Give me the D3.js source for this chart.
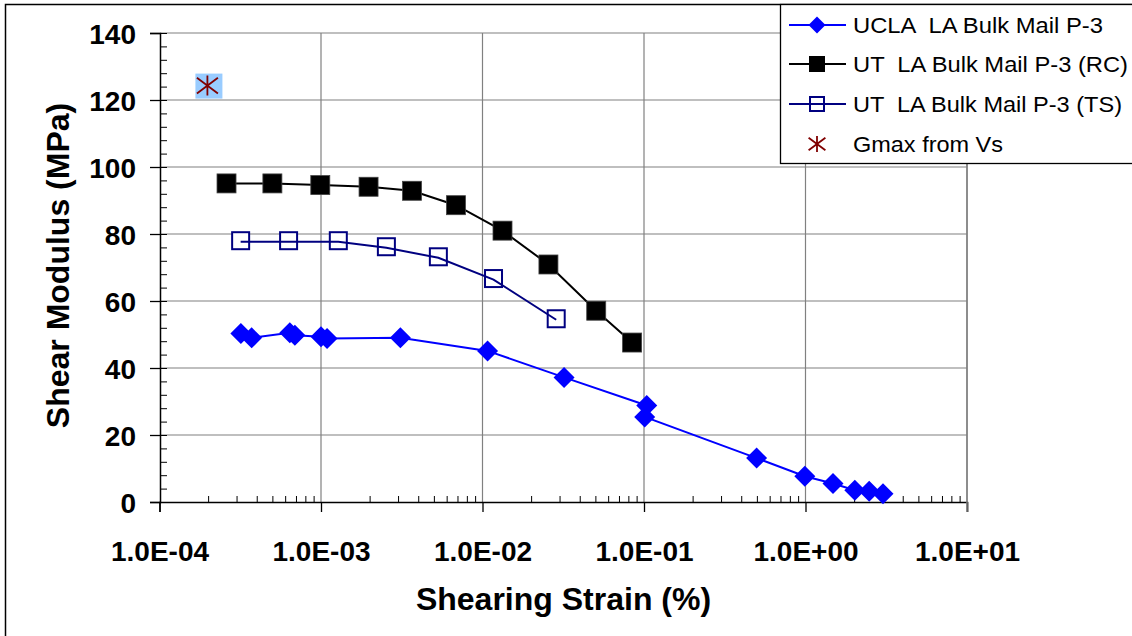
<!DOCTYPE html>
<html>
<head>
<meta charset="utf-8">
<script src="https://cdn.jsdelivr.net/npm/d3@7"></script>
<style>
    html, body { margin: 0; padding: 0; background: #fff; }
    svg { display: block; font-family: Arial, "Liberation Sans", sans-serif; }
    .legend-text { white-space: pre; }
</style>
</head>
<body>
<svg id="chart" width="1132" height="636"></svg>
<script>
(function () {
    'use strict';

    // UCLA resonant column / torsional shear data
    var uclaStrain = [3.19e-4, 3.72e-4, 6.41e-4, 6.89e-4, 1.0e-3, 1.09e-3, 3.1e-3, 1.075e-2, 3.2e-2,
            1.04e-1, 1.01e-1, 0.498, 0.99, 1.48, 2.02, 2.48, 3.02],
        uclaModulus = [50.3, 49.0, 50.5, 49.8, 49.3, 48.8, 49.0, 45.1, 37.2,
            28.8, 25.4, 13.1, 7.7, 5.5, 3.5, 3.2, 2.5];

    // UT resonant column
    var rcStrain = [2.6e-4, 5.0e-4, 9.9e-4, 1.97e-3, 3.66e-3, 6.85e-3, 1.33e-2, 2.56e-2, 5.06e-2, 8.44e-2],
        rcModulus = [95.1, 95.1, 94.6, 94.1, 92.9, 88.6, 81.0, 70.9, 57.1, 47.6];

    // UT torsional shear
    var tsStrain = [3.18e-4, 6.3e-4, 1.28e-3, 2.54e-3, 5.33e-3, 1.17e-2, 2.86e-2],
        tsModulus = [78.0, 78.0, 78.0, 76.2, 73.2, 66.7, 54.7];

    // Gmax from Vs
    var gmaxStrain = [1.98e-4],
        gmaxModulus = [124.3];

    var seriesNames = ['UCLA  LA Bulk Mail P-3', 'UT  LA Bulk Mail P-3 (RC)',
        'UT  LA Bulk Mail P-3 (TS)', 'Gmax from Vs'];

    var xTicks = [1e-4, 1e-3, 1e-2, 1e-1, 1e0, 1e1],
        xTickLabels = ['1.0E-04', '1.0E-03', '1.0E-02', '1.0E-01', '1.0E+00', '1.0E+01'],
        yTicks = [0, 20, 40, 60, 80, 100, 120, 140];

    var svg = d3.select('#chart'),
        left = 160, right = 967, top = 33, bottom = 502;

    var x = d3.scaleLog().domain([1e-4, 1e1]).range([159.5, right]),
        y = d3.scaleLinear().domain([0, 140]).range([bottom, top]);

    var zip = function (xs, ys) {
        return xs.map(function (v, i) { return [v, ys[i]]; });
    };

    //outer frame
    svg.append('rect')
        .attr('x', 5.5).attr('y', 4.5)
        .attr('width', 1200).attr('height', 700)
        .attr('fill', '#fff').attr('stroke', '#000').attr('stroke-width', 1.5);

    //grid
    var grid = svg.append('g').attr('stroke', '#808080').attr('stroke-width', 1.2);
    grid.selectAll('.hg')
        .data(yTicks.filter(function (d) { return d > 0; }))
        .enter().append('line')
        .attr('x1', left).attr('x2', right)
        .attr('y1', function (d) { return y(d); })
        .attr('y2', function (d) { return y(d); });
    grid.selectAll('.vg')
        .data(xTicks.slice(1))
        .enter().append('line')
        .attr('y1', top).attr('y2', bottom)
        .attr('x1', function (d) { return x(d); })
        .attr('x2', function (d) { return x(d); });

    //minor ticks
    var minorX = [];
    xTicks.slice(0, -1).forEach(function (d) {
        for (var k = 2; k < 10; k++) {
            minorX.push(d * k);
        }
    });
    svg.append('g')
        .attr('transform', 'translate(0,' + bottom + ')')
        .call(d3.axisTop(x).tickValues(minorX).tickSize(6).tickFormat(''))
        .call(function (g) { g.select('.domain').remove(); });
    svg.append('g')
        .attr('transform', 'translate(' + left + ',0)')
        .call(d3.axisRight(y).tickValues(d3.range(0, 141, 4)).tickSize(7).tickFormat(''))
        .call(function (g) { g.select('.domain').remove(); });

    //major axes
    var xAxis = svg.append('g')
        .attr('transform', 'translate(0,' + bottom + ')')
        .call(d3.axisBottom(x).tickValues(xTicks).tickSize(10).tickPadding(29)
            .tickFormat(function (d, i) { return xTickLabels[i]; }));
    var yAxis = svg.append('g')
        .attr('transform', 'translate(' + left + ',0)')
        .call(d3.axisLeft(y).tickValues(yTicks).tickSize(10).tickPadding(14));

    [xAxis, yAxis].forEach(function (g) {
        g.select('.domain').attr('stroke-width', 1.5);
        g.selectAll('.tick line').attr('stroke-width', 1.3);
        g.selectAll('.tick text')
            .attr('fill', '#000')
            .style('font-size', '28px')
            .style('font-weight', 'bold')
            .style('font-family', 'Arial, "Liberation Sans", sans-serif');
    });
    yAxis.selectAll('.tick text').attr('dy', '0.36em');

    //right border of plot area
    svg.append('line')
        .attr('x1', right).attr('x2', right).attr('y1', top).attr('y2', bottom + 10)
        .attr('stroke', '#808080').attr('stroke-width', 1.5);

    //axis titles
    svg.append('text')
        .attr('x', (left + right) / 2).attr('y', 610)
        .attr('text-anchor', 'middle')
        .style('font-size', '32px').style('font-weight', 'bold')
        .text('Shearing Strain (%)');
    svg.append('text')
        .attr('transform', 'translate(69,' + ((top + bottom) / 2 - 2) + ') rotate(-90)')
        .attr('text-anchor', 'middle')
        .style('font-size', '32px').style('font-weight', 'bold')
        .text('Shear Modulus (MPa)');

    var line = d3.line()
        .x(function (d) { return x(d[0]); })
        .y(function (d) { return y(d[1]); });

    var diamond = function (s) {
        return 'M0,' + (-s) + 'L' + s + ',0L0,' + s + 'L' + (-s) + ',0Z';
    };
    var asterisk = function (s) {
        var a = s * 1.05;
        return 'M0,' + (-s) + 'V' + s + 'M' + (-a) + ',' + (-a * 0.75) + 'L' + a + ',' + (a * 0.75) +
            'M' + a + ',' + (-a * 0.75) + 'L' + (-a) + ',' + (a * 0.75);
    };

    //UCLA
    svg.append('path')
        .attr('d', line(zip(uclaStrain, uclaModulus)))
        .attr('fill', 'none').attr('stroke', '#0000ff').attr('stroke-width', 2);
    svg.selectAll('.ucla')
        .data(zip(uclaStrain, uclaModulus))
        .enter().append('path')
        .attr('class', 'ucla')
        .attr('transform', function (d) { return 'translate(' + x(d[0]) + ',' + y(d[1]) + ')'; })
        .attr('d', diamond(10.5))
        .attr('fill', '#0000ff');

    //UT RC
    svg.append('path')
        .attr('d', line(zip(rcStrain, rcModulus)))
        .attr('fill', 'none').attr('stroke', '#000').attr('stroke-width', 2);
    svg.selectAll('.rc')
        .data(zip(rcStrain, rcModulus))
        .enter().append('rect')
        .attr('class', 'rc')
        .attr('x', function (d) { return x(d[0]) - 9.5; })
        .attr('y', function (d) { return y(d[1]) - 9.5; })
        .attr('width', 19).attr('height', 19)
        .attr('fill', '#000').attr('stroke', '#444').attr('stroke-width', 0.8);

    //UT TS
    svg.selectAll('.ts')
        .data(zip(tsStrain, tsModulus))
        .enter().append('rect')
        .attr('class', 'ts')
        .attr('x', function (d) { return x(d[0]) - 8.5; })
        .attr('y', function (d) { return y(d[1]) - 8.5; })
        .attr('width', 17).attr('height', 17)
        .attr('fill', '#fff').attr('stroke', '#000080').attr('stroke-width', 2);
    svg.append('path')
        .attr('d', line(zip(tsStrain, tsModulus)))
        .attr('transform', 'translate(0,1)')
        .attr('fill', 'none').attr('stroke', '#000080').attr('stroke-width', 2);

    //Gmax (selected point highlight)
    var gmax = zip(gmaxStrain, gmaxModulus);
    svg.selectAll('.gmaxbg')
        .data(gmax)
        .enter().append('rect')
        .attr('x', function (d) { return x(d[0]) - 12; })
        .attr('y', function (d) { return y(d[1]) - 12; })
        .attr('width', 27).attr('height', 25)
        .attr('fill', '#99ccff');
    svg.selectAll('.gmax')
        .data(gmax)
        .enter().append('path')
        .attr('transform', function (d) { return 'translate(' + x(d[0]) + ',' + y(d[1]) + ')'; })
        .attr('d', asterisk(10))
        .attr('fill', 'none').attr('stroke', '#800000').attr('stroke-width', 1.8);

    //legend
    var legend = svg.append('g');
    legend.append('rect')
        .attr('x', 780.5).attr('y', 4.5).attr('width', 400).attr('height', 159)
        .attr('fill', '#fff').attr('stroke', '#000').attr('stroke-width', 1.3);

    var rowY = [25, 64, 104, 144],
        textWidths = [250, 275, 269, 150];

    var rows = legend.selectAll('.row')
        .data(seriesNames)
        .enter().append('g')
        .attr('transform', function (d, i) { return 'translate(0,' + rowY[i] + ')'; });

    rows.each(function (d, i) {
        var g = d3.select(this);
        if (i < 3) {
            g.append('line')
                .attr('x1', 789).attr('x2', 846)
                .attr('stroke', ['#0000ff', '#000', '#000080'][i]).attr('stroke-width', 2);
        }
        if (i === 0) {
            g.append('path').attr('transform', 'translate(817,0)').attr('d', diamond(8.5)).attr('fill', '#0000ff');
        } else if (i === 1) {
            g.append('rect').attr('x', 809).attr('y', -8).attr('width', 16).attr('height', 16).attr('fill', '#000');
        } else if (i === 2) {
            g.append('rect').attr('x', 810).attr('y', -7).attr('width', 14).attr('height', 14)
                .attr('fill', '#fff').attr('stroke', '#000080').attr('stroke-width', 2);
            g.append('line').attr('x1', 810).attr('x2', 824)
                .attr('stroke', '#000080').attr('stroke-width', 2);
        } else {
            g.append('path').attr('transform', 'translate(817,0)').attr('d', asterisk(8))
                .attr('fill', 'none').attr('stroke', '#800000').attr('stroke-width', 1.8);
        }
        g.append('text')
            .attr('class', 'legend-text')
            .attr('x', 853).attr('y', 8)
            .attr('textLength', textWidths[i]).attr('lengthAdjust', 'spacingAndGlyphs')
            .style('font-size', '22px')
            .text(d);
    });
})();
</script>
</body>
</html>
